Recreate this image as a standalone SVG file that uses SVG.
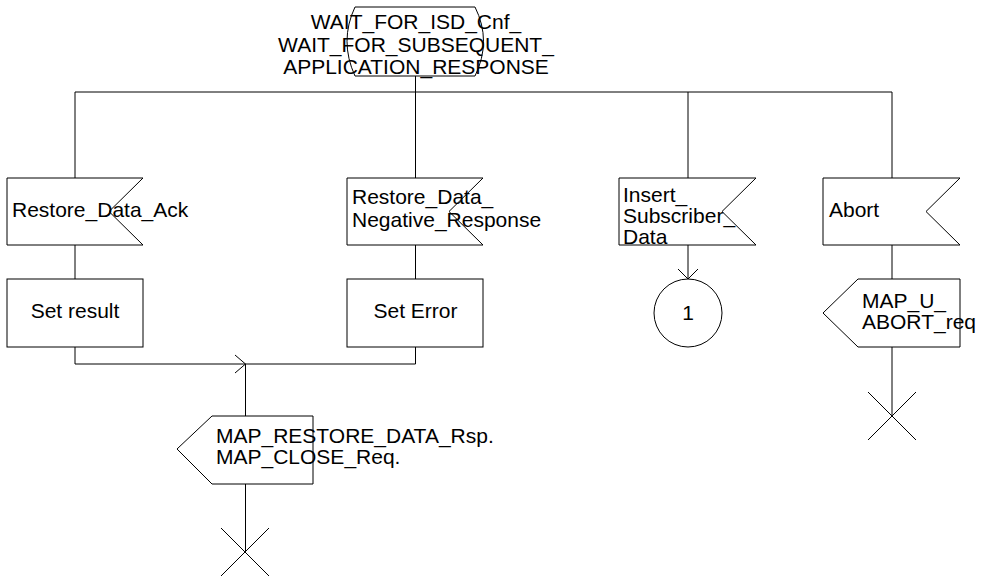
<svg xmlns="http://www.w3.org/2000/svg" width="982" height="579" viewBox="0 0 982 579">
<style>
.s{fill:#fff;stroke:#000;stroke-width:1}
.l{fill:none;stroke:#000;stroke-width:1}
text{font-family:"Liberation Sans",Arial,sans-serif;font-size:21px;fill:#000}
.c{text-anchor:middle}
</style>
<rect width="982" height="579" fill="#fff"/>
<g id="connectors">
<path class="l" d="M415.5,76V178M75,92H892M75,92V178M688,92V178M892,92V178"/>
<path class="l" d="M75,245V279M415.5,245V279M688,245V279M892,245V279"/>
<path class="l" d="M678,269L688,279L698,269"/>
<path class="l" d="M75,347V364H415.5V347M245.5,364V416M235,355L245.5,364L235,373"/>
<path class="l" d="M245.5,484V552M221,528L269,576M269,528L221,576"/>
<path class="l" d="M892,347V416M868,392L916,440M916,392L868,440"/>
</g>
<g id="state">
<path class="s" d="M355,7H475Q492,41 475,76H355Q339,41 355,7Z"/>
<text class="c" x="416" y="29">WAIT_FOR_ISD_Cnf_</text>
<text class="c" x="416" y="51.5">WAIT_FOR_SUBSEQUENT_</text>
<text class="c" x="416" y="74">APPLICATION_RESPONSE</text>
</g>
<g id="in_ack">
<path class="s" d="M7,178H143L109,211.5L143,245H7Z"/>
<text x="12" y="217">Restore_Data_Ack</text>
</g>
<g id="in_neg">
<path class="s" d="M347,178H483L449,211.5L483,245H347Z"/>
<text x="352" y="204">Restore_Data_</text>
<text x="352" y="227">Negative_Response</text>
</g>
<g id="in_isd">
<path class="s" d="M619,178H756L722,211.5L756,245H619Z"/>
<text x="623" y="202">Insert_</text>
<text x="623" y="223">Subscriber_</text>
<text x="623" y="244">Data</text>
</g>
<g id="in_abort">
<path class="s" d="M823,178H960L926,211.5L960,245H823Z"/>
<text x="829" y="217">Abort</text>
</g>
<g id="task_result">
<rect class="s" x="7" y="279" width="136" height="68"/>
<text class="c" x="75" y="318">Set result</text>
</g>
<g id="task_error">
<rect class="s" x="347" y="279" width="136" height="68"/>
<text class="c" x="415.5" y="318">Set Error</text>
</g>
<g id="connector1">
<circle class="s" cx="688" cy="313" r="34"/>
<text class="c" x="688" y="320">1</text>
</g>
<g id="out_abort">
<path class="s" d="M858,279H960V347H858L823,313Z"/>
<text x="862" y="308">MAP_U_</text>
<text x="862" y="329">ABORT_req</text>
</g>
<g id="out_rsp">
<path class="s" d="M212,416H313V484H212L177,449Z"/>
<text x="216" y="443">MAP_RESTORE_DATA_Rsp.</text>
<text x="216" y="464">MAP_CLOSE_Req.</text>
</g>
</svg>
